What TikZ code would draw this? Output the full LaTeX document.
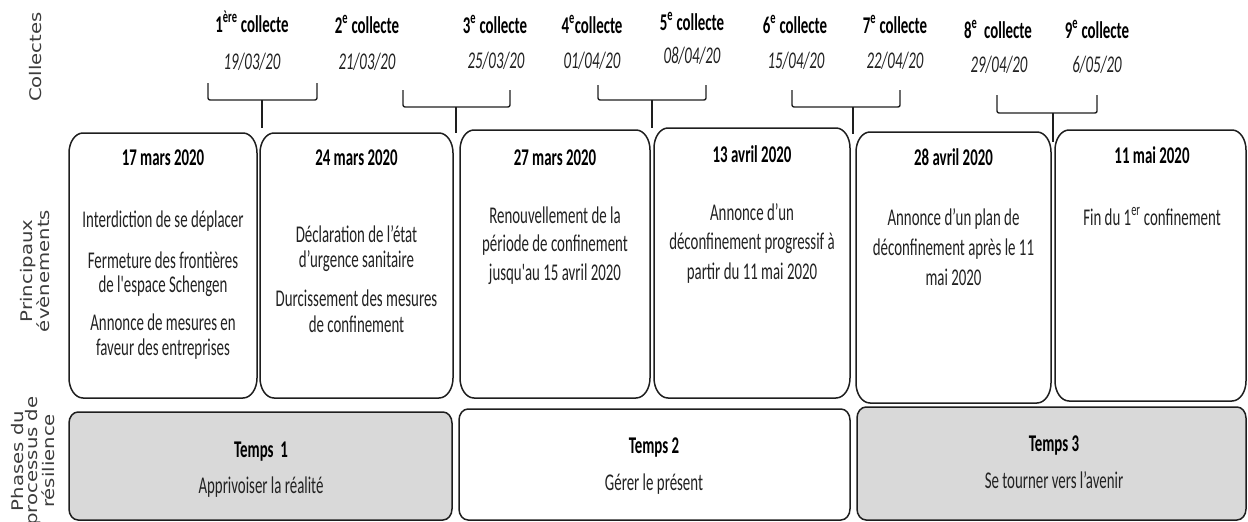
\documentclass[tikz,border=0pt]{standalone}
\usepackage{fontspec}
\usepackage{graphicx}
\setmainfont{Carlito}[FakeStretch=0.62, Ligatures=TeXOff]
\newfontfamily\lblfont{DejaVu Sans}
\usetikzlibrary{fit}
\definecolor{boxgray}{HTML}{D9D9D9}
\definecolor{txt}{HTML}{222222}
\definecolor{lblc}{HTML}{3C3C3C}
\definecolor{ink}{HTML}{1E1E1E}
\newcommand\ellbox[4]{%
  \path[boxline,fill=#2] ([xshift=#3]#1.north west) -- ([xshift=-#3]#1.north east)
    arc[start angle=90,end angle=0,x radius=#3,y radius=#4]
    -- ([yshift=#4]#1.south east)
    arc[start angle=0,end angle=-90,x radius=#3,y radius=#4]
    -- ([xshift=#3]#1.south west)
    arc[start angle=-90,end angle=-180,x radius=#3,y radius=#4]
    -- ([yshift=-#4]#1.north west)
    arc[start angle=180,end angle=90,x radius=#3,y radius=#4]
    -- cycle;}
\begin{document}
\begin{tikzpicture}[x=1pt,y=-1pt,
  every node/.style={inner sep=0pt,outer sep=0pt},
  boxline/.style={draw=ink, line width=1.5pt},
  brk/.style={draw=ink, line width=1.4pt, rounded corners=2pt, line join=round},
  ttl/.style={font=\bfseries\fontsize{24}{25}\selectfont, text=black, anchor=base},
  dte/.style={font=\itshape\fontsize{24}{25}\selectfont, text=txt, anchor=base},
  hdr/.style={font=\bfseries\fontsize{24}{25}\selectfont, text=black, anchor=base},
  bodyt/.style={font=\fontsize{24}{#1}\selectfont, text=txt, align=center, anchor=base},
  sidelbl/.style={font=\lblfont\fontsize{16}{14.5}\selectfont, text=lblc, rotate=90, align=center},
]
\useasboundingbox (0,0) rectangle (1248,522);

% event boxes
\node[fit={(69,133) (257,398)}] (b1) {};
\node[fit={(260,133) (453,398)}] (b2) {};
\node[fit={(460,130) (650,398)}] (b3) {};
\node[fit={(654,128) (850,398)}] (b4) {};
\node[fit={(856,132) (1051,403)}] (b5) {};
\node[fit={(1055,130) (1246,401)}] (b6) {};
\ellbox{b1}{white}{14pt}{20pt}
\ellbox{b2}{white}{14pt}{20pt}
\ellbox{b3}{white}{14pt}{20pt}
\ellbox{b4}{white}{14pt}{20pt}
\ellbox{b5}{white}{14pt}{20pt}
\ellbox{b6}{white}{14pt}{20pt}

% phase boxes
\node[fit={(69,412) (452,520)}] (t1) {};
\node[fit={(459,409) (850,520)}] (t2) {};
\node[fit={(857,407) (1246,520)}] (t3) {};
\ellbox{t1}{boxgray}{9pt}{11pt}
\ellbox{t2}{white}{9pt}{11pt}
\ellbox{t3}{boxgray}{9pt}{11pt}

% brackets
\draw[brk] (208,83) -- (208,100) -- (317,100) -- (317,83);
\draw[brk] (403,90) -- (403,107) -- (510,107) -- (510,90);
\draw[brk] (598,85) -- (598,100) -- (706,100) -- (706,85);
\draw[brk] (792,90) -- (792,107) -- (900,107) -- (900,90);
\draw[brk] (997,95) -- (997,113) -- (1097,113) -- (1097,95);
\coordinate (k1) at (262,100);  \coordinate (s1) at (262,128);
\coordinate (k2) at (456,107);  \coordinate (s2) at (456,133);
\coordinate (k3) at (652,100);  \coordinate (s3) at (652,128);
\coordinate (k4) at (853,107);  \coordinate (s4) at (853,134);
\coordinate (k5) at (1053,113); \coordinate (s5) at (1053,142);
\draw[brk] (k1) -- (s1);
\draw[brk] (k2) -- (s2);
\draw[brk] (k3) -- (s3);
\draw[brk] (k4) -- (s4);
\draw[brk] (k5) -- (s5);

% collectes
\node[ttl] (c1) at (252,32) {1\textsuperscript{ère} collecte};
\node[dte] (d1) at (252,69) {19/03/20};
\node[ttl] (c2) at (367,33) {2\textsuperscript{e} collecte};
\node[dte] (d2) at (367,69) {21/03/20};
\node[ttl] (c3) at (495,33) {3\textsuperscript{e} collecte};
\node[dte] (d3) at (496,68) {25/03/20};
\node[ttl] (c4) at (592,33) {4\textsuperscript{e}collecte};
\node[dte] (d4) at (592,68) {01/04/20};
\node[ttl] (c5) at (692,30) {5\textsuperscript{e} collecte};
\node[dte] (d5) at (692,63) {08/04/20};
\node[ttl] (c6) at (795,33) {6\textsuperscript{e} collecte};
\node[dte] (d6) at (796,68) {15/04/20};
\node[ttl] (c7) at (895,33) {7\textsuperscript{e} collecte};
\node[dte] (d7) at (895,68) {22/04/20};
\node[ttl] (c8) at (998,38) {8\textsuperscript{e}~ collecte};
\node[dte] (d8) at (999,72) {29/04/20};
\node[ttl] (c9) at (1097,38) {9\textsuperscript{e} collecte};
\node[dte] (d9) at (1097,72) {6/05/20};

% events (multi-line nodes: base = last line)
\node[hdr] (h1) at (163,165) {17 mars 2020};
\node[bodyt=24.5] (e1) at (163,355) {Interdiction de se déplacer\\[16pt]Fermeture des frontières\\de l'espace Schengen\\[13.5pt]Annonce de mesures en\\faveur des entreprises};
\node[hdr] (h2) at (356.5,165) {24 mars 2020};
\node[bodyt=25.5] (e2) at (356.5,332) {Déclaration de l’état\\d’urgence sanitaire\\[13.5pt]Durcissement des mesures\\de confinement};
\node[hdr] (h3) at (555,165) {27 mars 2020};
\node[bodyt=28.5] (e3) at (555,280) {Renouvellement de la\\période de confinement\\jusqu'au 15 avril 2020};
\node[hdr] (h4) at (752,162) {13 avril 2020};
\node[bodyt=29.5] (e4) at (752,279) {Annonce d’un\\déconfinement progressif à\\partir du 11 mai 2020};
\node[hdr] (h5) at (953.5,165) {28 avril 2020};
\node[bodyt=30] (e5) at (953.5,285) {Annonce d’un plan de\\déconfinement après le 11\\mai 2020};
\node[hdr] (h6) at (1152,163) {11 mai 2020};
\node[bodyt=24] (e6) at (1152,225) {Fin du 1\textsuperscript{er} confinement};

% phases
\node[hdr] (p1) at (261,457) {Temps~ 1};
\node[bodyt=24] (q1) at (261,493) {Apprivoiser la réalité};
\node[hdr] (p2) at (654,453) {Temps 2};
\node[bodyt=24] (q2) at (654,490) {Gérer le présent};
\node[hdr] (p3) at (1054,451) {Temps 3};
\node[bodyt=24] (q3) at (1054,488) {Se tourner vers l’avenir};

% side labels
\node[sidelbl] (L1) at (36,57) {\scalebox{1.23}[1]{Collectes}};
\node[sidelbl] (L2) at (35,271) {\scalebox{1.23}[1]{Principaux}\\\scalebox{1.23}[1]{évènements}};
\node[sidelbl] (L3) at (33,461) {\scalebox{1.23}[1]{Phases du}\\\scalebox{1.23}[1]{processus de}\\\scalebox{1.23}[1]{résilience}};
\end{tikzpicture}
\end{document}
